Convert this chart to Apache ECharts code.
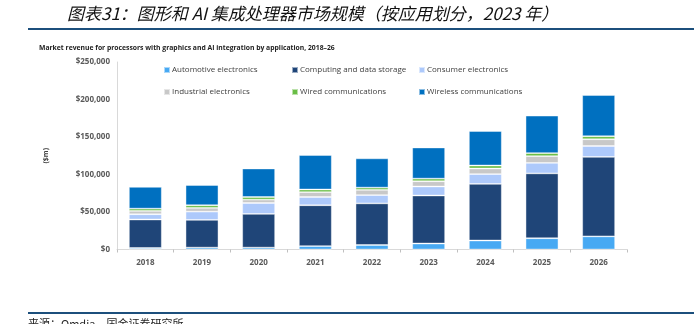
<!DOCTYPE html>
<html>
<head>
<meta charset="utf-8">
<script src="https://cdn.jsdelivr.net/npm/echarts@6/dist/echarts.min.js"></script>
<style>
html,body{margin:0;padding:0;background:#fff;}
#main{width:698px;height:324px;}
</style>
</head>
<body>
<div id="main"></div>
<script>
var categories = ['2018','2019','2020','2021','2022','2023','2024','2025','2026'];
var automotive = [2000, 2500, 2500, 4500, 6000, 8000, 12000, 15000, 17500];
var computing  = [38000, 37000, 45000, 54500, 55500, 64000, 75500, 86500, 106000];
var consumer   = [7000, 11000, 14500, 11000, 11000, 12000, 13000, 14000, 14500];
var industrial = [4500, 5000, 4500, 6500, 7000, 7000, 7500, 9000, 9000];
var wired      = [3000, 3500, 3500, 3500, 3000, 3500, 4000, 4000, 4000];
var wireless   = [29000, 27000, 38000, 46000, 39000, 41500, 46000, 50000, 55000];
var seriesNames = ['Automotive electronics','Computing and data storage','Consumer electronics','Industrial electronics','Wired communications','Wireless communications'];
var yTicks = [0, 50000, 100000, 150000, 200000, 250000];

var colors = ['#47a9f3','#1f4578','#adc9fb','#c8c8c8','#69bd45','#0070c0'];
var dataSets = [automotive, computing, consumer, industrial, wired, wireless];

var chart = echarts.init(document.getElementById('main'));

var series = seriesNames.map(function(n, i){
  return {
    name: n, type: 'bar', stack: 'total', barWidth: '58%',
    data: dataSets[i],
    itemStyle: { color: colors[i], borderColor: 'rgba(255,255,255,0.55)', borderWidth: 0.8 }
  };
});

var legendPos = [[163,66],[291,66],[418,66],[163,88],[291,88],[418,88]];
var legends = seriesNames.map(function(n, i){
  return {
    data: [n], left: legendPos[i][0], top: legendPos[i][1], padding: 0,
    itemWidth: 6, itemHeight: 6, icon: 'rect', itemGap: 0,
    textStyle: { fontSize: 8, color: '#404040', fontFamily: 'Open Sans', padding: [0,0,0,-3] },
    selectedMode: false
  };
});

chart.setOption({
  animation: false,
  color: colors,
  legend: legends,
  grid: { left: 117, right: 71, top: 62, bottom: 74.5 },
  xAxis: {
    type: 'category', data: categories,
    axisLine: { lineStyle: { color: '#d9d9d9', width: 1 } },
    axisTick: { show: true, length: 3, lineStyle: { color: '#bfbfbf' } },
    axisLabel: { color: '#595959', fontSize: 8, fontWeight: 'bold', fontFamily: 'Open Sans', margin: 9 }
  },
  yAxis: {
    type: 'value', min: yTicks[0], max: yTicks[yTicks.length-1], interval: yTicks[1]-yTicks[0],
    name: '($m)', nameLocation: 'middle', nameRotate: 90, nameGap: 68,
    nameTextStyle: { fontSize: 7, fontWeight: 'bold', color: '#404040', fontFamily: 'Open Sans' },
    axisLine: { show: true, lineStyle: { color: '#d9d9d9' } },
    axisTick: { show: false },
    splitLine: { show: false },
    axisLabel: {
      color: '#595959', fontSize: 8, fontWeight: 'bold', fontFamily: 'Open Sans', margin: 7,
      formatter: function(v){ return '$' + v.toLocaleString('en-US'); }
    }
  },
  series: series,
  graphic: [
    { type: 'text', left: 67, top: 5, style: { text: '图表31：图形和 AI 集成处理器市场规模（按应用划分，2023 年）', font: 'italic 17px "Noto Sans CJK SC"', fill: '#111' } },
    { type: 'rect', shape: { x: 28, y: 28, width: 666, height: 2 }, style: { fill: '#1c4f7c' } },
    { type: 'text', left: 39, top: 45, style: { text: 'Market revenue for processors with graphics and AI integration by application, 2018–26', font: 'bold 6.8px "Open Sans"', fill: '#222' } },
    { type: 'rect', shape: { x: 28, y: 312, width: 666, height: 2 }, style: { fill: '#1c4f7c' } },
    { type: 'text', left: 28, top: 318, style: { text: '来源：Omdia，国金证券研究所', font: '11px "Noto Sans CJK SC"', fill: '#222' } }
  ]
});
</script>
</body>
</html>
